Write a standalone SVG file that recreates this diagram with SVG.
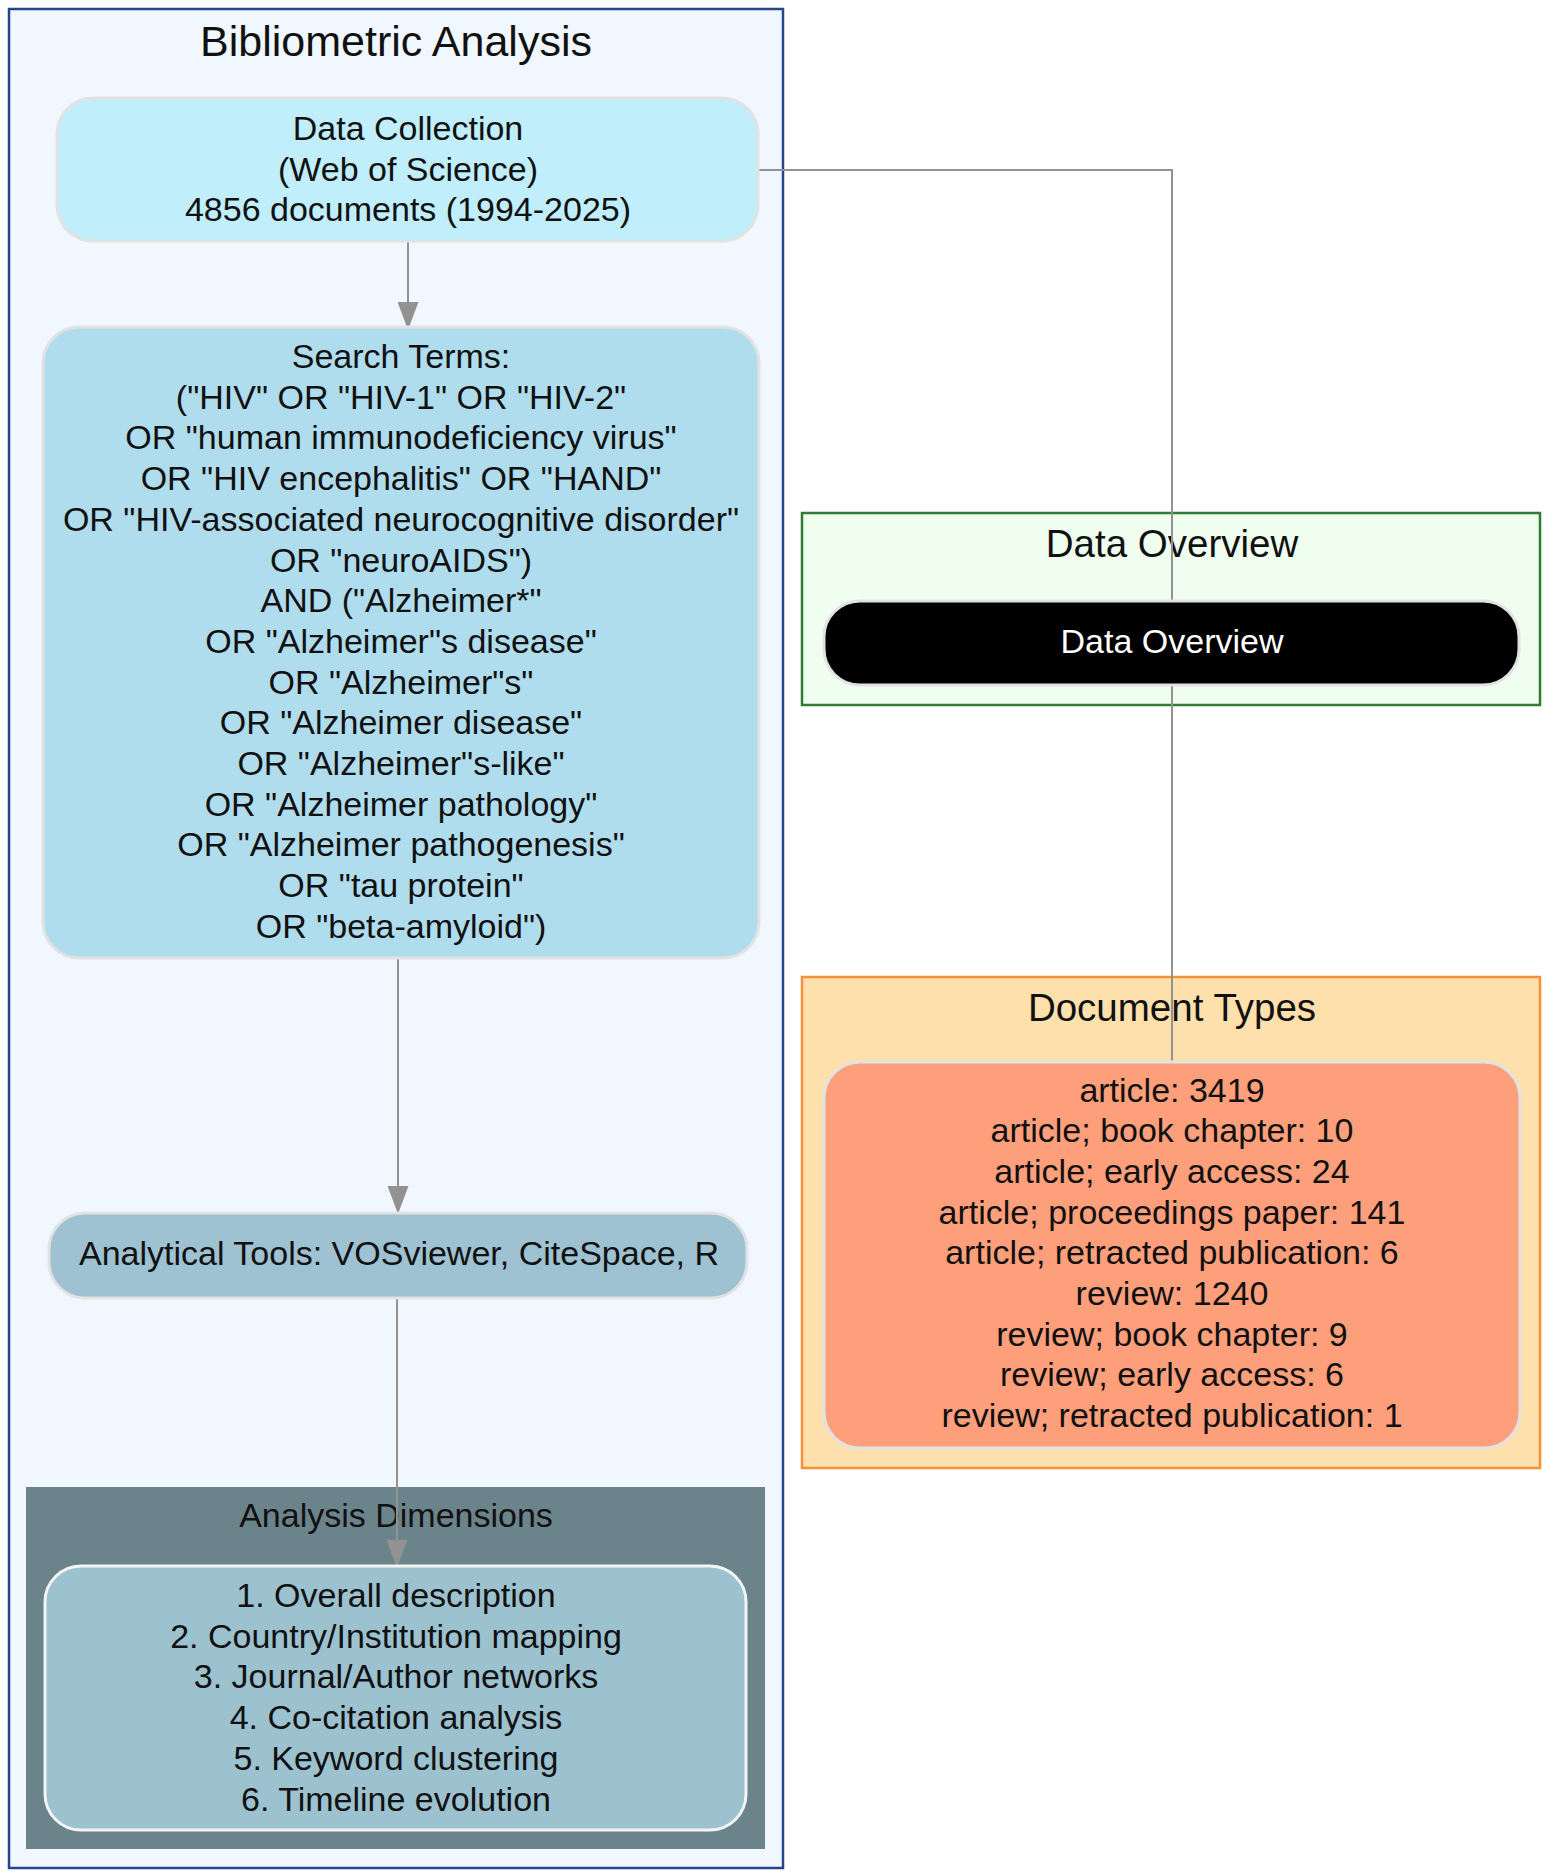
<svg xmlns="http://www.w3.org/2000/svg" width="1548" height="1876" viewBox="0 0 1548 1876">
<defs>
<style>
text{font-family:"Liberation Sans",Arial,sans-serif;fill:#111;text-anchor:middle}
.t34{font-size:34px}
.node{stroke:#e2e2e2;stroke-width:3}
.edge{stroke:#929292;stroke-width:2;fill:none}
</style>
<marker id="arrh" viewBox="0 0 28 21" refX="27" refY="10.5" markerWidth="28" markerHeight="21" markerUnits="userSpaceOnUse" orient="auto">
<path d="M0,0 L28,10.5 L0,21 z" fill="#929292"/>
</marker>
</defs>
<rect width="1548" height="1876" fill="#ffffff"/>

<g id="cluster-bibliometric">
<rect x="9" y="9" width="774" height="1859" fill="#f0f7fe" stroke="#28448a" stroke-width="2.5"/>
<text x="396" y="56" style="font-size:43px">Bibliometric Analysis</text>
</g>
<g id="cluster-overview">
<rect x="802" y="513" width="738" height="192" fill="#f0fef0" stroke="#2e7d32" stroke-width="2.5"/>
<text x="1172" y="557" style="font-size:38.5px">Data Overview</text>
</g>
<g id="cluster-doctypes">
<rect x="802" y="977" width="738" height="491" fill="#fde0ac" stroke="#f6913a" stroke-width="2.5"/>
<text x="1172" y="1021" style="font-size:38.5px">Document Types</text>
</g>
<g id="cluster-dimensions">
<rect x="26" y="1487" width="739" height="362" fill="#6b838b"/>
<text class="t34" x="396" y="1527">Analysis Dimensions</text>
</g>

<g id="connectors">
<line class="edge" x1="408" y1="241" x2="408" y2="329" marker-end="url(#arrh)"/>
<line class="edge" x1="398" y1="958" x2="398" y2="1213" marker-end="url(#arrh)"/>
<line class="edge" x1="397" y1="1298" x2="397" y2="1567" marker-end="url(#arrh)"/>
<polyline class="edge" points="758,170 1172,170 1172,1062"/>
</g>

<g id="node-collection">
<rect class="node" x="57" y="98" width="701" height="143" rx="36" fill="#c0eefa"/>
<text class="t34" x="408" y="140">Data Collection</text>
<text class="t34" x="408" y="181">(Web of Science)</text>
<text class="t34" x="408" y="221">4856 documents (1994-2025)</text>
</g>

<g id="node-search">
<rect class="node" x="43" y="327" width="716" height="631" rx="36" fill="#b0dded"/>
<text class="t34" x="401" y="368">Search Terms:</text>
<text class="t34" x="401" y="408.7">("HIV" OR "HIV-1" OR "HIV-2"</text>
<text class="t34" x="401" y="449.4">OR "human immunodeficiency virus"</text>
<text class="t34" x="401" y="490.1">OR "HIV encephalitis" OR "HAND"</text>
<text class="t34" x="401" y="530.8">OR "HIV-associated neurocognitive disorder"</text>
<text class="t34" x="401" y="571.5">OR "neuroAIDS")</text>
<text class="t34" x="401" y="612.2">AND ("Alzheimer*"</text>
<text class="t34" x="401" y="652.9">OR "Alzheimer"s disease"</text>
<text class="t34" x="401" y="693.6">OR "Alzheimer"s"</text>
<text class="t34" x="401" y="734.3">OR "Alzheimer disease"</text>
<text class="t34" x="401" y="775">OR "Alzheimer"s-like"</text>
<text class="t34" x="401" y="815.7">OR "Alzheimer pathology"</text>
<text class="t34" x="401" y="856.4">OR "Alzheimer pathogenesis"</text>
<text class="t34" x="401" y="897.1">OR "tau protein"</text>
<text class="t34" x="401" y="937.8">OR "beta-amyloid")</text>
</g>

<g id="node-tools">
<rect class="node" x="49" y="1213" width="698" height="85" rx="36" fill="#9ec2d1"/>
<text class="t34" x="399" y="1265">Analytical Tools: VOSviewer, CiteSpace, R</text>
</g>

<g id="node-dimensions">
<rect x="45" y="1566" width="701" height="264" rx="36" fill="#9cc1cf" stroke="#f4f4f4" stroke-width="3"/>
<text class="t34" x="396" y="1607">1. Overall description</text>
<text class="t34" x="396" y="1647.7">2. Country/Institution mapping</text>
<text class="t34" x="396" y="1688.4">3. Journal/Author networks</text>
<text class="t34" x="396" y="1729.1">4. Co-citation analysis</text>
<text class="t34" x="396" y="1769.8">5. Keyword clustering</text>
<text class="t34" x="396" y="1810.5">6. Timeline evolution</text>
</g>

<g id="node-overview">
<rect class="node" x="824" y="601" width="695" height="84" rx="36" fill="#000000"/>
<text class="t34" x="1172" y="653" style="fill:#ffffff">Data Overview</text>
</g>

<g id="node-doctypes">
<rect class="node" x="824" y="1062" width="696" height="386" rx="36" fill="#fd9f7b"/>
<text class="t34" x="1172" y="1101.5">article: 3419</text>
<text class="t34" x="1172" y="1142.2">article; book chapter: 10</text>
<text class="t34" x="1172" y="1182.9">article; early access: 24</text>
<text class="t34" x="1172" y="1223.6">article; proceedings paper: 141</text>
<text class="t34" x="1172" y="1264.3">article; retracted publication: 6</text>
<text class="t34" x="1172" y="1305">review: 1240</text>
<text class="t34" x="1172" y="1345.7">review; book chapter: 9</text>
<text class="t34" x="1172" y="1386.4">review; early access: 6</text>
<text class="t34" x="1172" y="1427.1">review; retracted publication: 1</text>
</g>
</svg>
